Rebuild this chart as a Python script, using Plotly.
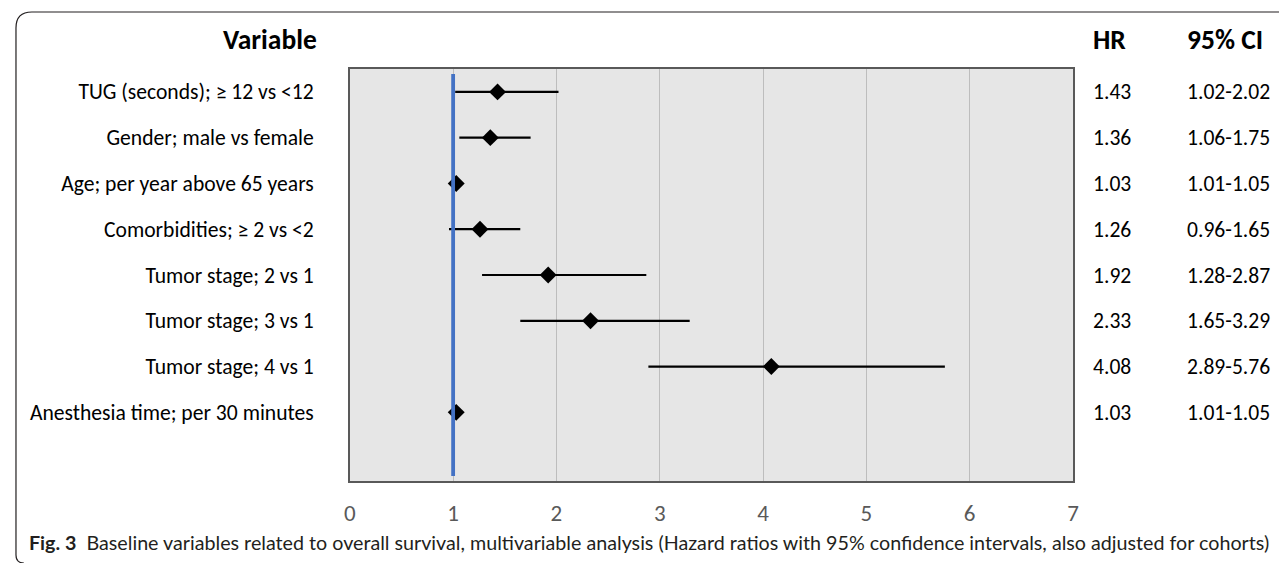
import plotly.graph_objects as go

variables = [
    "TUG (seconds); \u2265 12 vs <12",
    "Gender; male vs female",
    "Age; per year above 65 years",
    "Comorbidities; \u2265 2 vs <2",
    "Tumor stage; 2 vs 1",
    "Tumor stage; 3 vs 1",
    "Tumor stage; 4 vs 1",
    "Anesthesia time; per 30 minutes",
]
hr = [1.43, 1.36, 1.03, 1.26, 1.92, 2.33, 4.08, 1.03]
ci_low = [1.02, 1.06, 1.01, 0.96, 1.28, 1.65, 2.89, 1.01]
ci_high = [2.02, 1.75, 1.05, 1.65, 2.87, 3.29, 5.76, 1.05]
x_ticks = [0, 1, 2, 3, 4, 5, 6, 7]
caption_bold = "Fig. 3"
caption = ("Baseline variables related to overall survival, multivariable analysis "
           "(Hazard ratios with 95% confidence intervals, also adjusted for cohorts)")

# the page body has an 8px margin; work in window pixels and convert
OFF = 8
W, H = 1287 - OFF, 563 - OFF
rows = [i + 0.5 for i in range(len(variables))]

def px(x):
    return (x - OFF) / W

def py(y):
    return 1 - (y - OFF) / H

LABEL_FONT = "Carlito, Lato, sans-serif"

fig = go.Figure()

fig.add_trace(go.Scatter(
    x=hr, y=rows, mode="markers",
    marker=dict(symbol="diamond", size=13, color="black"),
    error_x=dict(type="data", symmetric=False,
                 array=[h - m for h, m in zip(ci_high, hr)],
                 arrayminus=[m - l for m, l in zip(hr, ci_low)],
                 color="black", thickness=2.2, width=0),
    showlegend=False, hoverinfo="skip",
))

# reference line at HR = 1
fig.add_trace(go.Scatter(
    x=[1, 1], y=[0.11, 8.89], mode="lines",
    line=dict(color="#4472C4", width=3.8),
    showlegend=False, hoverinfo="skip",
))

fig.update_layout(
    width=W, height=H,
    margin=dict(l=0, r=0, t=0, b=0),
    paper_bgcolor="white",
    plot_bgcolor="#E6E6E6",
    xaxis=dict(
        domain=[px(347), px(1077)],
        range=[0, 7], tickvals=x_ticks, ticktext=[str(t) for t in x_ticks],
        showgrid=True, gridcolor="#BDBDBD", gridwidth=1,
        zeroline=False, showline=True, mirror=True,
        linecolor="#595959", linewidth=1.5,
        ticks="", ticklabelstandoff=11,
        tickfont=dict(family=LABEL_FONT, size=23, color="#595959"),
        fixedrange=True,
    ),
    yaxis=dict(
        domain=[py(481), py(69)],
        range=[9, 0], tickvals=rows, ticktext=variables,
        showgrid=False, zeroline=False, showline=True, mirror=True,
        linecolor="#595959", linewidth=1.5,
        ticks="", ticklabelstandoff=30,
        tickfont=dict(family=LABEL_FONT, size=21.6, color="black"),
        fixedrange=True,
    ),
    font=dict(family=LABEL_FONT),
)

annotations = []
# headers
annotations.append(dict(x=px(316), y=py(40), xref="paper", yref="paper",
                        text="<b>Variable</b>", showarrow=False,
                        xanchor="right", yanchor="middle",
                        font=dict(family=LABEL_FONT, size=27.5, color="black")))
annotations.append(dict(x=px(1095), y=py(40), xref="paper", yref="paper",
                        text="<b>HR</b>", showarrow=False,
                        xanchor="left", yanchor="middle",
                        font=dict(family=LABEL_FONT, size=27.5, color="black")))
annotations.append(dict(x=px(1190), y=py(40), xref="paper", yref="paper",
                        text="<b>95% CI</b>", showarrow=False,
                        xanchor="left", yanchor="middle",
                        font=dict(family=LABEL_FONT, size=27.5, color="black")))
# HR and CI columns
for r, h, lo, hi in zip(rows, hr, ci_low, ci_high):
    annotations.append(dict(x=px(1095), y=r, xref="paper", yref="y",
                            text=f"{h:.2f}", showarrow=False,
                            xanchor="left", yanchor="middle",
                            font=dict(family=LABEL_FONT, size=21.6, color="black")))
    annotations.append(dict(x=px(1190), y=r, xref="paper", yref="y",
                            text=f"{lo:.2f}-{hi:.2f}", showarrow=False,
                            xanchor="left", yanchor="middle",
                            font=dict(family=LABEL_FONT, size=21.6, color="black")))
# caption
annotations.append(dict(x=px(21), y=py(542), xref="paper", yref="paper",
                        text=f"<b>{caption_bold}</b>  {caption}", showarrow=False,
                        xanchor="left", yanchor="middle",
                        font=dict(family="Lato, sans-serif", size=19.7, color="#231F20")))
fig.update_layout(annotations=annotations)

# journal frame (rounded corner at top-left)
path = (f"M {px(18)},{py(563)} Q {px(10)},{py(563)} {px(10)},{py(555)} "
        f"L {px(10)},{py(28)} Q {px(10)},{py(12)} {px(26)},{py(12)} "
        f"L {px(1287)},{py(12)}")
fig.add_shape(type="path", path=path, xref="paper", yref="paper",
              line=dict(color="#231F20", width=1.2))

fig.write_html("out.html")
